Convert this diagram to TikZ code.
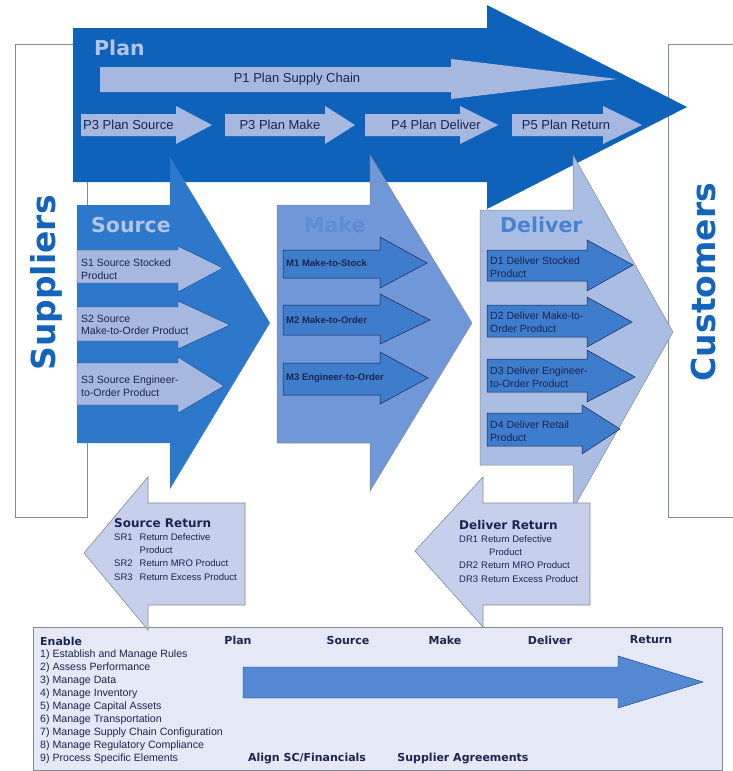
\documentclass[tikz,border=0pt]{standalone}
\usepackage{fontspec}
\setmainfont{Liberation Sans}
\newfontfamily\headfont{DejaVu Sans}
\usetikzlibrary{positioning}

\definecolor{planBlue}{RGB}{14,98,186}
\definecolor{sourceBlue}{RGB}{46,120,204}
\definecolor{makeBlue}{RGB}{112,152,216}
\definecolor{deliverBlue}{RGB}{170,190,228}
\definecolor{paleBlue}{RGB}{166,184,224}
\definecolor{stepBlue}{RGB}{62,124,204}
\definecolor{returnBlue}{RGB}{198,208,236}
\definecolor{enableFill}{RGB}{228,233,245}
\definecolor{enableArrow}{RGB}{84,136,210}
\definecolor{inkNavy}{RGB}{28,36,80}
\definecolor{lineGray}{RGB}{130,138,150}
\definecolor{sideBlue}{RGB}{20,100,188}
\definecolor{titlePale}{RGB}{178,196,232}
\definecolor{makeTitle}{RGB}{92,140,214}
\definecolor{deliverTitle}{RGB}{72,130,208}

% block arrow: style, x0, body top, body bottom, head x, head top, head bottom, tip x, tip y
\newcommand{\flowarrow}[9]{%
  \path[#1] (#2,#3) -- (#5,#3) -- (#5,#6) -- (#8,#9) -- (#5,#7)
    -- (#5,#4) -- (#2,#4) -- cycle;}

\begin{document}
\begin{tikzpicture}[x=1pt, y=-1pt,
  side/.style={font=\headfont\bfseries\fontsize{33}{33}\selectfont, text=sideBlue, rotate=90, inner sep=0pt},
  head/.style={font=\headfont\bfseries\fontsize{20.5}{20.5}\selectfont, inner sep=0pt, anchor=west},
  lbl/.style={inner sep=0pt, text=inkNavy, align=left, anchor=west, font=\fontsize{10.5}{12.5}\selectfont},
  plbl/.style={inner sep=0pt, text=inkNavy, font=\fontsize{13}{13}\selectfont},
  mlbl/.style={lbl, font=\bfseries\fontsize{9.5}{11}\selectfont},
  rtitle/.style={inner sep=0pt, anchor=west, text=inkNavy, font=\headfont\bfseries\fontsize{12}{12}\selectfont},
  rlist/.style={inner sep=0pt, text=inkNavy, font=\fontsize{9.5}{13.3}\selectfont},
  ehead/.style={inner sep=0pt, text=inkNavy, font=\headfont\bfseries\fontsize{11}{11}\selectfont},
  pale/.style={fill=paleBlue},
  substep/.style={fill=paleBlue, draw=planBlue!70!black, line width=0.4pt},
  mstep/.style={fill=stepBlue, draw=inkNavy, line width=0.5pt},
  ret/.style={fill=returnBlue, draw=lineGray, line width=0.6pt},
  frame/.style={draw=lineGray, line width=0.8pt},
]
  \fill[white] (0,0) rectangle (732,771);
  \useasboundingbox (0,0) rectangle (732,771);

  % side boxes
  \draw[frame] (15,44) rectangle (87,517);
  \draw[frame] (668,44) rectangle (745,517);
  \node[side] (suppliers) at (46,283) {Suppliers};
  \node[side] (customers) at (703,282) {Customers};

  % plan band
  \flowarrow{fill=planBlue}{73}{28}{182}{487}{5}{209}{687}{107}
  \flowarrow{pale}{100}{67}{92}{451}{59}{99}{617}{79}
  \foreach \x/\h/\t in {81/176/212, 225/325/355, 365/460/498, 512/603/642}
    \flowarrow{pale}{\x}{114}{136}{\h}{106}{144}{\t}{125};

  % source, make, deliver
  \flowarrow{fill=sourceBlue}{77}{205}{443}{170}{157}{489}{270}{323}
  \flowarrow{fill=makeBlue, draw=lineGray, line width=0.5pt}{277}{205}{443}{370}{155}{491}{472}{323}
  \flowarrow{fill=deliverBlue, draw=lineGray, line width=0.5pt}{480}{210}{465}{573}{155}{509}{673}{332}

  \flowarrow{substep}{77}{250}{283}{178}{246}{292}{223}{268}
  \flowarrow{substep}{77}{307}{341}{178}{301}{349}{230}{325}
  \flowarrow{substep}{77}{363}{405}{178}{357}{413}{224}{386}

  \flowarrow{mstep}{283}{250}{278}{380}{237}{288}{427}{263}
  \flowarrow{mstep}{283}{305}{335}{380}{294}{344}{430}{320}
  \flowarrow{mstep}{283}{363}{395}{380}{352}{404}{428}{378}

  \flowarrow{mstep}{487}{250}{281}{587}{240}{291}{633}{265}
  \flowarrow{mstep}{487}{305}{337}{587}{297}{347}{632}{322}
  \flowarrow{mstep}{487}{359}{392}{587}{350}{402}{635}{377}
  \flowarrow{mstep}{487}{413}{446}{582}{405}{454}{620}{429}

  % enable panel
  \draw[frame, fill=enableFill] (33,627) rectangle (722,770);
  \flowarrow{fill=enableArrow, draw=planBlue!60!black, line width=0.4pt}{243}{667}{698}{618}{656}{708}{703}{682}

  % returns
  \flowarrow{ret}{245}{503}{605}{148}{477}{630}{84}{553}
  \flowarrow{ret}{590}{503}{605}{483}{477}{627}{415}{551}

  % titles
  \node[head, text=titlePale] (plan-title) at (94,48) {Plan};
  \node[head, text=titlePale] (source-title) at (91,225) {Source};
  \node[head, text=makeTitle] (make-title) at (304,225) {Make};
  \node[head, text=deliverTitle] (deliver-title) at (500,225) {Deliver};

  % plan steps
  \node[plbl] (p1) at (297,79) {P1 Plan Supply Chain};
  \node[plbl, anchor=west] (p2) at (83,125) {P3 Plan Source};
  \node[plbl] (p3) at (280,125) {P3 Plan Make};
  \node[plbl] (p4) at (436,125) {P4 Plan Deliver};
  \node[plbl] (p5) at (566,125) {P5 Plan Return};

  \node[lbl] (s1) at (81,269) {S1 Source Stocked\\Product};
  \node[lbl] (s2) at (81,325) {S2 Source\\Make-to-Order Product};
  \node[lbl] (s3) at (81,386) {S3 Source Engineer-\\to-Order Product};

  \node[mlbl] (m1) at (286,263) {M1 Make-to-Stock};
  \node[mlbl] (m2) at (286,320) {M2 Make-to-Order};
  \node[mlbl] (m3) at (286,378) {M3 Engineer-to-Order};

  \node[lbl] (d1) at (490,267) {D1 Deliver Stocked\\Product};
  \node[lbl] (d2) at (490,322) {D2 Deliver Make-to-\\Order Product};
  \node[lbl] (d3) at (490,377) {D3 Deliver Engineer-\\to-Order Product};
  \node[lbl] (d4) at (490,431) {D4 Deliver Retail\\Product};

  % return lists
  \node[rtitle] (sr-title) at (114,523) {Source Return};
  \node[rlist, below=3pt of sr-title.south west, anchor=north west] (sr-list)
    {\begin{tabular}{@{}l@{\hspace{7pt}}l@{}}
       SR1 & Return Defective\\ & Product\\
       SR2 & Return MRO Product\\ SR3 & Return Excess Product
     \end{tabular}};
  \node[rtitle] (dr-title) at (459,525) {Deliver Return};
  \node[rlist, below=3pt of dr-title.south west, anchor=north west] (dr-list)
    {\begin{tabular}{@{}l@{\hspace{3pt}}l@{}}
       DR1 & Return Defective\\ & \hspace{8pt}Product\\
       DR2 & Return MRO Product\\ DR3 & Return Excess Product
     \end{tabular}};

  % enablers
  \node[rtitle, font=\headfont\bfseries\fontsize{11}{11}\selectfont] (enable-title) at (40,641) {Enable};
  \node[rlist, align=left, anchor=north west, font=\fontsize{10.6}{13}\selectfont] (enable-list) at (40,650)
    {1) Establish and Manage Rules\\2) Assess Performance\\3) Manage Data\\
     4) Manage Inventory\\5) Manage Capital Assets\\6) Manage Transportation\\
     7) Manage Supply Chain Configuration\\8) Manage Regulatory Compliance\\
     9) Process Specific Elements};
  \foreach \n/\x/\t in {plan/238/Plan, source/348/Source, make/445/Make,
                        deliver/550/Deliver, return/651/Return}
    \node[ehead] (e-\n) at (\x,640) {\t};
  \node[ehead] (align-sc) at (307,758) {Align SC/Financials};
  \node[ehead] (supplier-agr) at (463,758) {Supplier Agreements};
\end{tikzpicture}
\end{document}
